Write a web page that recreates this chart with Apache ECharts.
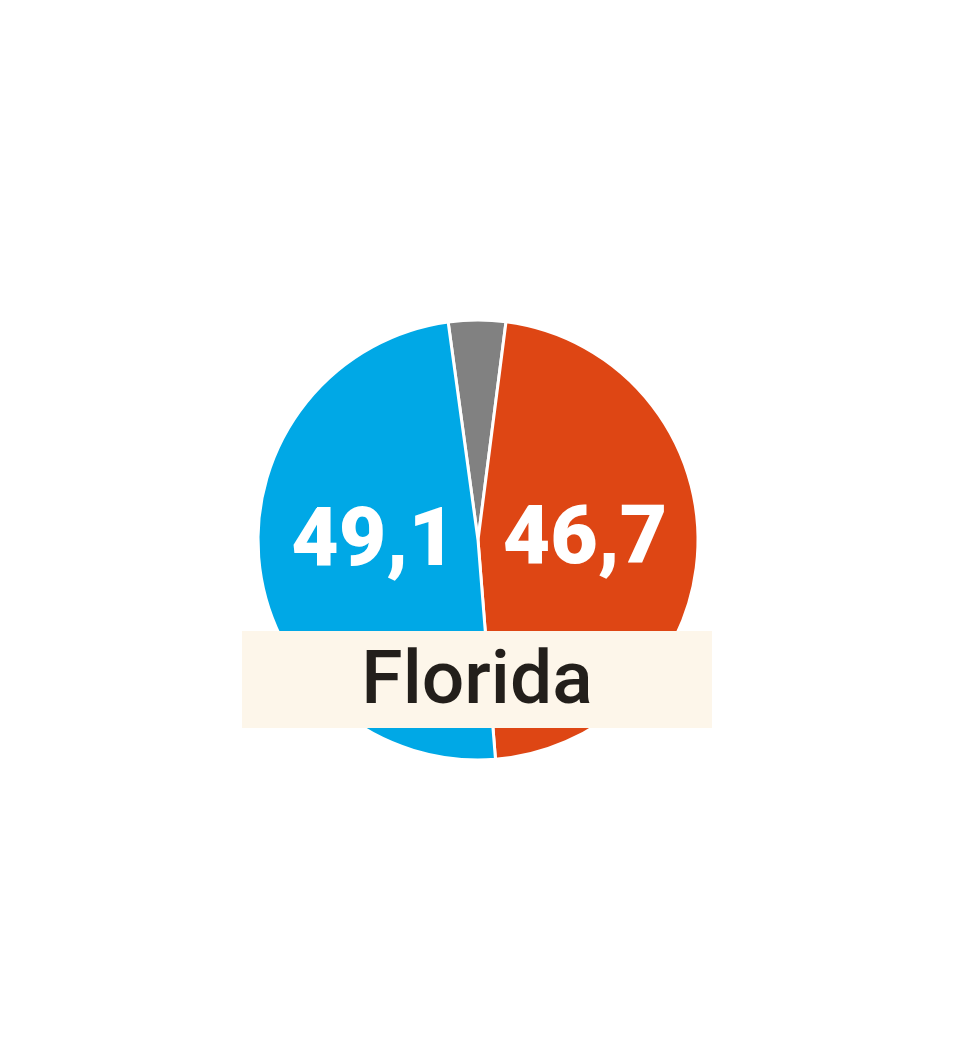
<!DOCTYPE html>
<html>
<head>
<meta charset="utf-8">
<title>Florida</title>
<script src="https://cdn.jsdelivr.net/npm/echarts@6/dist/echarts.min.js"></script>
<style>
  html, body { margin: 0; padding: 0; background: #fff; }
  #chart { width: 960px; height: 1040px; }
</style>
</head>
<body>
<div id="chart"></div>
<script>
// Ergebnis Florida (in %)
const candidates = ['Sonstige', 'Rot', 'Blau'];
const shares = [4.2, 46.7, 49.1];
const sliceColors = ['#818181', '#de4614', '#00a8e6'];
const stateName = 'Florida';

// Feinjustierung der Zahlen im Keil
const labelOffsets = [[0, 0], [-6, 0], [8, -8]];

const chart = echarts.init(document.getElementById('chart'));

const option = {
  backgroundColor: '#fff',
  animation: false,
  series: [{
    type: 'pie',
    center: [478, 540],
    radius: [0, 220],
    startAngle: 97.8, // grauer Keil mittig oben
    clockwise: true,
    silent: true,
    itemStyle: {
      borderColor: '#fff',
      borderWidth: 3
    },
    label: {
      show: true,
      position: 'inside',
      color: '#fff',
      fontFamily: 'Roboto',
      fontWeight: 900,
      fontSize: 82,
      formatter: (p) => p.dataIndex === 0 ? '' : String(p.value).replace('.', ',')
    },
    labelLine: { show: false },
    data: candidates.map((name, i) => ({
      name: name,
      value: shares[i],
      itemStyle: { color: sliceColors[i] },
      label: { offset: labelOffsets[i] }
    }))
  }],
  graphic: [{
    type: 'group',
    left: 242,
    top: 631,
    z: 100,
    children: [{
      type: 'rect',
      z: 100,
      shape: { x: 0, y: 0, width: 470, height: 97 },
      style: { fill: '#fdf6ea' }
    }, {
      type: 'text',
      z: 101,
      x: 235,
      y: 53,
      style: {
        text: stateName,
        fill: '#231f1b',
        font: '500 75px Roboto',
        align: 'center',
        verticalAlign: 'middle'
      }
    }]
  }]
};

chart.setOption(option);
</script>
</body>
</html>
